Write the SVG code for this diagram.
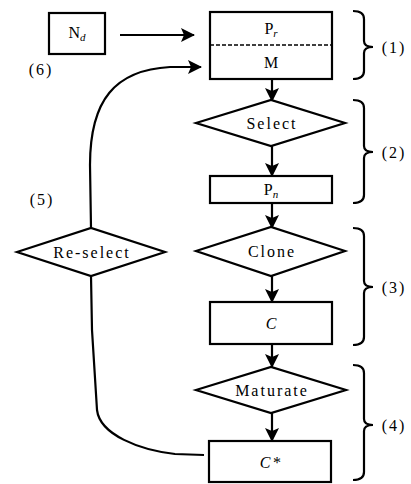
<svg xmlns="http://www.w3.org/2000/svg" width="411" height="484" viewBox="0 0 411 484" font-family="'Liberation Serif', 'DejaVu Serif', serif">
<defs>
<marker id="ah" viewBox="0 0 14 14" markerWidth="14" markerHeight="14" refX="13" refY="7" orient="auto" markerUnits="userSpaceOnUse">
<path d="M0,0 L14,7 L0,14 L3,7 z" fill="#000"/>
</marker>
<style>
.shape{fill:#fff;stroke:#000;stroke-width:2.2}
.line{fill:none;stroke:#000;stroke-width:2.2}
.brace{fill:none;stroke:#000;stroke-width:2.2}
text{font-family:'Liberation Serif', 'DejaVu Serif', serif;font-size:16px;fill:#000;text-anchor:middle}
.sp{letter-spacing:2px}
.it{font-style:italic}
</style>
</defs>
<rect width="411" height="484" fill="#fff"/>
<g id="connectors">
<line class="line" x1="120" y1="35" x2="194" y2="35" marker-end="url(#ah)"/>
<line class="line" x1="272" y1="79" x2="272" y2="101" marker-end="url(#ah)"/>
<line class="line" x1="272" y1="146" x2="272" y2="176" marker-end="url(#ah)"/>
<line class="line" x1="272" y1="203" x2="272" y2="228" marker-end="url(#ah)"/>
<line class="line" x1="272" y1="276" x2="272" y2="302" marker-end="url(#ah)"/>
<line class="line" x1="272" y1="344" x2="272" y2="367" marker-end="url(#ah)"/>
<line class="line" x1="272" y1="413" x2="272" y2="441" marker-end="url(#ah)"/>
<path class="line" d="M91 228 L90 165 C90 100 115 70 170 67 L201 67" marker-end="url(#ah)"/>
<path class="line" d="M91 276 L92 330 L97 410 C100 435 140 450 175 454 L204 455"/>
</g>
<g id="node-nd">
<rect class="shape" x="49" y="13" width="56" height="41"/>
<text x="77" y="38">N<tspan class="it" font-size="11" dy="3">d</tspan></text>
</g>
<g id="node-pr-m">
<rect class="shape" x="210" y="12" width="122" height="67"/>
<line x1="210" y1="45" x2="332" y2="45" stroke="#000" stroke-width="1.5" stroke-dasharray="4,2"/>
<text x="271" y="34">P<tspan class="it" font-size="11" dy="3">r</tspan></text>
<text x="271" y="68">M</text>
</g>
<g id="node-select">
<polygon class="shape" points="196,123 271,100 345,123 271,146"/>
<text class="sp" x="272" y="129">Select</text>
</g>
<g id="node-pn">
<rect class="shape" x="210" y="176" width="122" height="27"/>
<text x="271" y="195">P<tspan class="it" font-size="11" dy="3">n</tspan></text>
</g>
<g id="node-clone">
<polygon class="shape" points="196,251 271,227 345,251 271,276"/>
<text class="sp" x="272" y="257">Clone</text>
</g>
<g id="node-c">
<rect class="shape" x="210" y="302" width="122" height="42"/>
<text class="it" x="271" y="329">C</text>
</g>
<g id="node-maturate">
<polygon class="shape" points="196,390 271,367 346,390 271,413"/>
<text class="sp" x="272" y="396">Maturate</text>
</g>
<g id="node-cstar">
<rect class="shape" x="209" y="441" width="122" height="41"/>
<text class="it sp" x="271" y="468">C*</text>
</g>
<g id="node-reselect">
<polygon class="shape" points="17,252 91,228 165,252 91,276"/>
<text class="sp" x="92" y="258">Re-select</text>
</g>
<g id="braces">
<path class="brace" d="M353 11 Q364 11 364 19 L364 41 Q364 47 373 47 Q364 47 364 53 L364 71 Q364 79 353 79"/>
<path class="brace" d="M353 100 Q364 100 364 108 L364 146 Q364 152 373 152 Q364 152 364 158 L364 195 Q364 203 353 203"/>
<path class="brace" d="M353 228 Q364 228 364 236 L364 281 Q364 287 373 287 Q364 287 364 293 L364 337 Q364 345 353 345"/>
<path class="brace" d="M353 365 Q364 365 364 373 L364 419 Q364 425 373 425 Q364 425 364 431 L364 472 Q364 480 353 480"/>
</g>
<g id="labels">
<text class="sp" x="394" y="53">(1)</text>
<text class="sp" x="394" y="158">(2)</text>
<text class="sp" x="394" y="293">(3)</text>
<text class="sp" x="394" y="431">(4)</text>
<text class="sp" x="42" y="205">(5)</text>
<text class="sp" x="41" y="75">(6)</text>
</g>
</svg>
